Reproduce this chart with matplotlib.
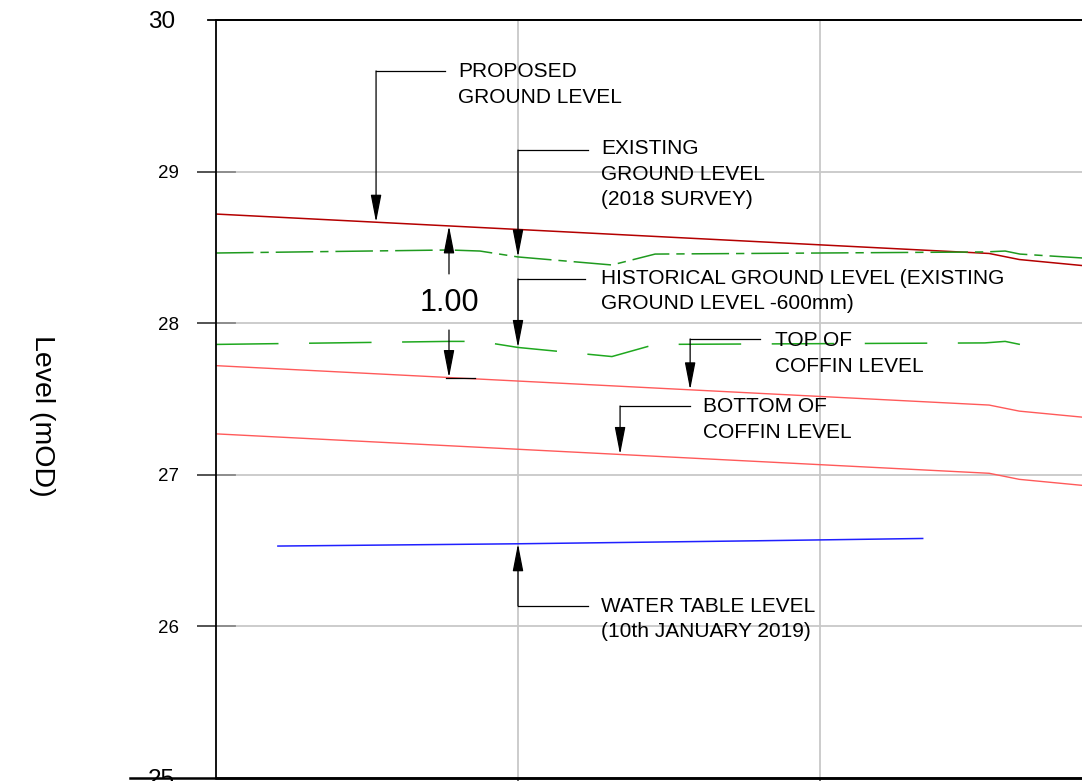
import numpy as np
import matplotlib
matplotlib.use('Agg')
import matplotlib.pyplot as plt
import matplotlib.transforms as mtransforms

plt.rcParams['font.family'] = ['Liberation Sans', 'DejaVu Sans']
plt.rcParams['lines.scale_dashes'] = False

# chainage (x) and levels (mOD)
ch_proposed = [0.0, 25.6, 26.6, 28.7]
proposed = [28.72, 28.46, 28.42, 28.38]

ch_existing = [0.0, 7.72, 8.74, 10.0, 13.11, 14.54, 25.46, 26.13, 26.62, 28.7]
existing = [28.463, 28.483, 28.476, 28.437, 28.384, 28.456, 28.470, 28.476, 28.456, 28.430]

ch_historical = [0.0, 7.72, 8.74, 10.0, 13.11, 14.54, 25.46, 26.13, 26.62]
historical = [27.86, 27.88, 27.88, 27.84, 27.78, 27.86, 27.87, 27.88, 27.86]

ch_coffin = [0.0, 25.6, 26.6, 28.7]
top_coffin = [27.72, 27.46, 27.42, 27.38]
bottom_coffin = [27.27, 27.01, 26.97, 26.93]

ch_water = [2.05, 10.0, 18.0, 23.4]
water = [26.53, 26.545, 26.565, 26.58]

y_ticks = [25, 26, 27, 28, 29, 30]
x_ticks = [10, 20]

fig = plt.figure(figsize=(10.82, 7.81), dpi=100)
ax = fig.add_axes([216 / 1082, 3 / 781, 866 / 1082, 758 / 781])
ax.set_xlim(0, 866 / 30.2)
ax.set_ylim(25, 30)

# grid and frame
ax.set_yticks(y_ticks)
ax.set_yticklabels([str(t) for t in y_ticks])
ax.set_xticks(x_ticks)
ax.set_xticklabels([])
ax.grid(True, color='#c8c8c8', lw=1.3)
ax.set_axisbelow(True)
ax.spines['right'].set_visible(False)
ax.spines['left'].set_linewidth(1.3)
ax.spines['top'].set_linewidth(1.3)
ax.spines['bottom'].set_linewidth(1.8)
ax.tick_params(axis='y', direction='out', length=13.7, width=1.3, color='#444444',
               labelsize=13.5, pad=13)
ax.tick_params(axis='x', direction='out', length=4, width=1.3, color='#555555')

trans = mtransforms.blended_transform_factory(ax.transAxes, ax.transData)
for tk, val in zip(ax.yaxis.get_major_ticks(), y_ticks):
    if val in (25, 30):
        tk.tick1line.set_visible(False)
        tk.label1.set_fontsize(17.5)
        tk.set_pad(16)
    else:
        # darker stub of the grid inside the axis
        ax.plot([0, 19 / 866], [val, val], color='#888888', lw=1.3, transform=trans)

ax.axhline(30, xmin=-8 / 866, xmax=1, color='black', lw=1.3, clip_on=False)
ax.axhline(25, xmin=-86 / 866, xmax=1, color='black', lw=1.8, clip_on=False)

# level lines
ax.plot(ch_proposed, proposed, color='#b40000', lw=1.1)
ax.plot(ch_existing, existing, color='#1f9a1f', lw=1.1, dashes=(27, 5, 6, 5))
ax.plot(ch_historical, historical, color='#1fa81f', lw=1.1, dashes=(45, 22))
ax.plot(ch_coffin, top_coffin, color='#ff5a5a', lw=1.0)
ax.plot(ch_coffin, bottom_coffin, color='#ff5a5a', lw=1.0)
ax.plot(ch_water, water, color='#2020ff', lw=1.1)

arrow = dict(arrowstyle='-|>,head_length=1.7,head_width=0.33', mutation_scale=10,
             color='black', lw=0.9, shrinkA=0, shrinkB=0)
tsize = 15


def leader(xc, yc, xend, tip_y, text, tx, ty):
    ax.plot([xc, xend], [yc, yc], color='black', lw=0.9)
    ax.annotate('', xy=(xc, tip_y), xytext=(xc, yc), arrowprops=arrow)
    ax.text(tx, ty, text, fontsize=tsize, ha='left', va='center', linespacing=1.43)


leader(5.30, 29.664, 7.58, np.interp(5.30, ch_proposed, proposed),
       'PROPOSED\nGROUND LEVEL', 8.01, 29.575)
leader(10.0, 29.142, 12.32, np.interp(10.0, ch_existing, existing),
       'EXISTING\nGROUND LEVEL\n(2018 SURVEY)', 12.75, 28.984)
leader(10.0, 28.292, 12.22, np.interp(10.0, ch_historical, historical),
       'HISTORICAL GROUND LEVEL (EXISTING\nGROUND LEVEL -600mm)', 12.75, 28.212)
leader(15.70, 27.896, 18.01, np.interp(15.70, ch_coffin, top_coffin),
       'TOP OF\nCOFFIN LEVEL', 18.51, 27.80)
leader(13.38, 27.454, 15.70, np.interp(13.38, ch_coffin, bottom_coffin),
       'BOTTOM OF\nCOFFIN LEVEL', 16.13, 27.365)
leader(10.0, 26.135, 12.32, np.interp(10.0, ch_water, water),
       'WATER TABLE LEVEL\n(10th JANUARY 2019)', 12.75, 26.049)

# 1.00 dimension between proposed and top of coffin
xd = 7.715
ax.annotate('', xy=(xd, np.interp(xd, ch_proposed, proposed)), xytext=(xd, 28.325),
            arrowprops=arrow)
ax.annotate('', xy=(xd, np.interp(xd, ch_coffin, top_coffin)), xytext=(xd, 27.955),
            arrowprops=arrow)
ax.plot([7.62, 8.58], [np.interp(xd, ch_coffin, top_coffin)] * 2, color='black', lw=0.9)
ax.text(xd, 28.133, '1.00', fontsize=22, ha='center', va='center')

fig.text(42 / 1082, 1 - 416 / 781, 'Level (mOD)', fontsize=20.5, rotation=270,
         ha='center', va='center')

fig.savefig('out.png', dpi=100)
